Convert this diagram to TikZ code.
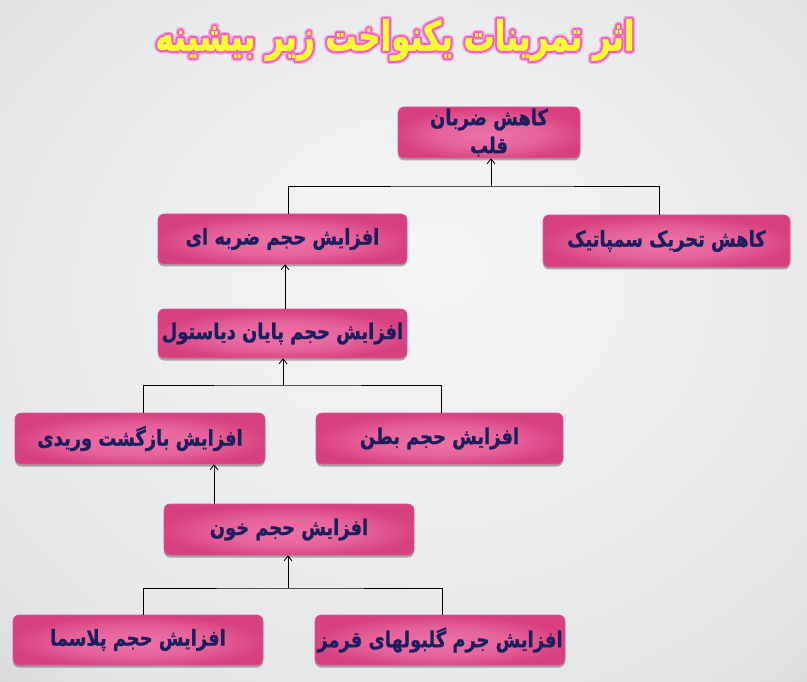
\documentclass[tikz,border=0pt]{standalone}
\usepackage{fontspec}
\usetikzlibrary{arrows.meta,shadows}
\newfontfamily\arabicfont[Script=Arabic, UprightFont={* Bold}, FakeBold=1.2]{DejaVu Sans}
\TeXXeTstate=1
\definecolor{navy}{HTML}{1C1F5E}
\definecolor{pinkdark}{HTML}{D7407F}
\definecolor{pinklight}{HTML}{EC72A7}
\definecolor{pinkedge}{HTML}{E0539A}
\definecolor{bgcenter}{HTML}{F5F5F6}
\definecolor{bgmid}{HTML}{E4E5E7}
\definecolor{bgedge}{HTML}{D0D3D5}
\definecolor{titleyellow}{HTML}{FFFF38}
\definecolor{glowouter}{HTML}{F7A6DC}
\definecolor{glowinner}{HTML}{EE62C2}
\pgfdeclareradialshading{boxshade}{\pgfpoint{0bp}{-3bp}}{color(0bp)=(pinklight); color(14bp)=(pinklight!70!pinkdark); color(26bp)=(pinkdark); color(50bp)=(pinkdark)}
\pgfdeclareradialshading{bgshade}{\pgfpoint{2bp}{6bp}}{color(0bp)=(bgcenter); color(14bp)=(bgcenter!60!bgmid); color(32bp)=(bgmid); color(40bp)=(bgedge); color(50bp)=(bgedge)}
\newcommand{\boxtext}[1]{\scalebox{1.05}[1.28]{\beginR #1\endR}}
\newcommand{\titletext}{\scalebox{0.86}[1.15]{\beginR اثر تمرینات یکنواخت زیر بیشینه\endR}}
\tikzset{
  box/.style={rounded corners=6pt, shade, shading=boxshade, draw=pinkedge, line width=0.6pt,
    drop shadow={shadow xshift=0pt, shadow yshift=-2.5pt, opacity=0.45, fill=black!70},
    font=\arabicfont\fontsize{17}{25}\selectfont, text=navy, inner sep=0pt,
    minimum height=50pt, align=center},
  conn/.style={draw=black, line width=0.8pt},
  arr/.style={conn, -{Straight Barb[length=5pt,width=8pt]}},
  titlefont/.style={font=\arabicfont\fontsize{36}{40}\selectfont}
}
\begin{document}
\begin{tikzpicture}[x=1pt,y=-1pt]
\useasboundingbox (0,0) rectangle (807,682);
\shade[shading=bgshade] (0,0) rectangle (807,682);

% title glow
\foreach \a [count=\i] in {0,22.5,...,337.5}
  \node[titlefont, text=glowouter] (glowo\i) at ({395+3.2*cos(\a)},{40+3.2*sin(\a)}) {\titletext};
\foreach \a [count=\i] in {0,30,...,330}
  \node[titlefont, text=glowinner] (glowi\i) at ({395+1.8*cos(\a)},{40+1.8*sin(\a)}) {\titletext};
\node[titlefont, text=titleyellow] (title) at (395,40) {\titletext};

% boxes
\node[box, minimum width=182pt, minimum height=51pt] (T) at (489,132.5) {\boxtext{کاهش ضربان}\\[3pt]\boxtext{قلب}};
\node[box, minimum width=249pt] (A) at (282.5,239) {\boxtext{افزایش حجم ضربه ای}};
\node[box, minimum width=247pt, minimum height=52pt] (B) at (666.5,241) {\boxtext{کاهش تحریک سمپاتیک}};
\node[box, minimum width=249pt, minimum height=49pt] (C) at (282.5,333.5) {\boxtext{افزایش حجم پایان دیاستول}};
\node[box, minimum width=250pt, minimum height=51pt] (D) at (140,438.5) {\boxtext{افزایش بازگشت وریدی}};
\node[box, minimum width=247pt, minimum height=51pt] (E) at (439.5,438.5) {\boxtext{افزایش حجم بطن}};
\node[box, minimum width=250pt, minimum height=51pt] (F) at (289,529.5) {\boxtext{افزایش حجم خون}};
\node[box, minimum width=250pt] (G) at (138,640) {\boxtext{افزایش حجم پلاسما}};
\node[box, minimum width=250pt] (H) at (440,640) {\boxtext{افزایش جرم گلبولهای  قرمز}};

% connectors
\coordinate (j1) at (491,186);
\draw[conn] ([xshift=5.5pt]A.north) |- (j1) -| ([xshift=-7.5pt]B.north);
\draw[arr] (j1) -- (j1 |- T.south);
\draw[arr] ([xshift=2.5pt]C.north) -- ([xshift=2.5pt]A.south);
\coordinate (j2) at (283,385);
\draw[conn] ([xshift=3pt]D.north) |- (j2) -| ([xshift=1.5pt]E.north);
\draw[arr] (j2) -- (j2 |- C.south);
\draw[arr] ([xshift=-75pt]F.north) -- ([xshift=-75pt]F.north |- D.south);
\coordinate (j3) at (288,588);
\draw[conn] ([xshift=5pt]G.north) |- (j3) -| ([xshift=2pt]H.north);
\draw[arr] (j3) -- (j3 |- F.south);
\end{tikzpicture}
\end{document}
